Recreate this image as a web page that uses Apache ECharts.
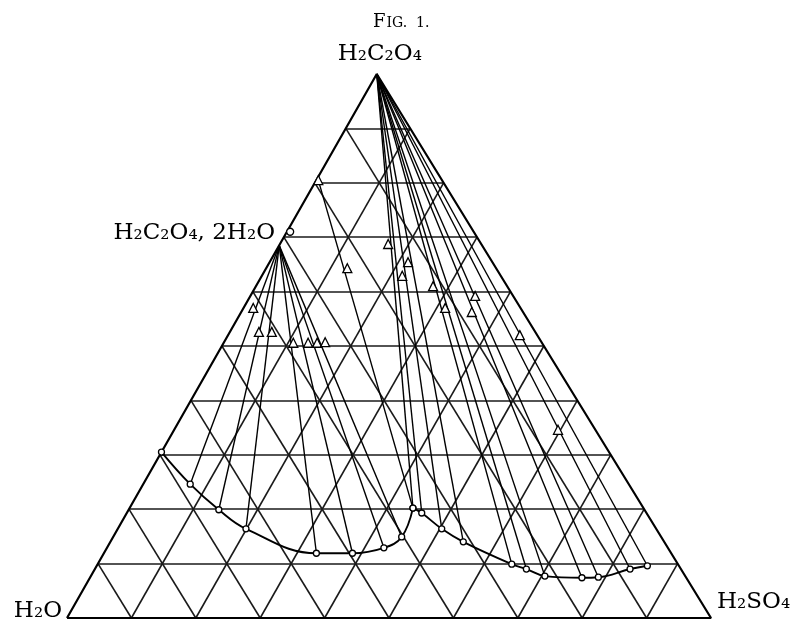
<!DOCTYPE html>
<html>
<head>
<meta charset="utf-8">
<script src="https://cdn.jsdelivr.net/npm/echarts@6/dist/echarts.min.js"></script>
<style>
html, body { margin: 0; background: #fff; }
#chart { width: 799px; height: 625px; }
</style>
</head>
<body>
<div id="chart"></div>
<script>
// Compositions in weight % as [H2C2O4, H2SO4]; water is the remainder
const gridTicks = [10, 20, 30, 40, 50, 60, 70, 80, 90];

// solutions in equilibrium with the dihydrate
const dihydrateCurve = [
    [30.5, 0], [24.6, 7.3], [19.9, 14.0], [16.4, 19.9], [11.9, 33.0],
    [11.9, 38.6], [12.9, 43.0], [14.9, 44.8], [20.2, 44.0]
];
// solutions in equilibrium with anhydrous acid
const anhydrousCurve = [
    [20.2, 44.0], [19.3, 45.8], [16.4, 50.3], [14.0, 54.8], [9.9, 64.3], [9.0, 67.0],
    [7.7, 70.5], [7.4, 76.4], [7.5, 78.9], [9.0, 83.1], [9.6, 85.5]
];

const apexPoint = [100, 0];
const dihydratePoint = [71.0, 0.5];
const dihydrateTieOrigin = [68.5, 0];
const dihydrateTieEnds = [
    [24.6, 7.3], [19.9, 14.0], [16.4, 19.9], [11.9, 33.0], [11.9, 38.6], [12.9, 43.0], [14.9, 44.8]
];
const junctionTie = [[80.5, 0.3], [20.2, 44.0]];

// wet residues (triangles)
const residues = [
    [57.0, 1.5], [52.6, 4.5], [52.6, 6.5], [50.6, 10.8], [50.6, 13.1], [50.6, 14.5], [50.7, 15.7],
    [80.5, 0.3], [64.3, 12.6],
    [68.75, 16.8], [62.9, 21.8], [65.4, 21.5], [61.0, 27.5], [57.0, 31.3],
    [59.2, 34.9], [56.25, 35.8], [52.0, 45.3], [34.6, 59.6]
];

const vertexNames = ['H₂C₂O₄', 'H₂O', 'H₂SO₄'];
const hydrateName = 'H₂C₂O₄, 2H₂O';

// ternary -> plot coordinates (apex sits a little left of the base midpoint)
const K = 0.481;
function xy(p) {
    return [p[1] + K * p[0], p[0]];
}

const gridSegs = [];
gridTicks.forEach(t => {
    gridSegs.push({ coords: [xy([t, 0]), xy([t, 100 - t])] });
    gridSegs.push({ coords: [xy([0, t]), xy([100 - t, t])] });
    gridSegs.push({ coords: [xy([0, 100 - t]), xy([100 - t, 0])] });
});

const tieSegs = [];
dihydrateTieEnds.forEach(e => tieSegs.push({ coords: [xy(dihydrateTieOrigin), xy(e)] }));
anhydrousCurve.forEach(e => tieSegs.push({ coords: [xy(apexPoint), xy(e)] }));
tieSegs.push({ coords: junctionTie.map(xy) });

const ink = '#000';
const font = 'DejaVu Serif';
const dot = { color: '#fff', borderColor: ink, borderWidth: 1.3, opacity: 1 };
const labelBase = { show: true, color: ink, fontFamily: font, fontSize: 23 };

const chart = echarts.init(document.getElementById('chart'));

chart.setOption({
    animation: false,
    backgroundColor: '#fff',
    title: {
        text: '{a|F}{b|IG.  1.}',
        left: 368,
        top: 8,
        textStyle: {
            rich: {
                a: { fontFamily: font, fontSize: 18, fontWeight: 'normal', color: ink },
                b: { fontFamily: font, fontSize: 14, fontWeight: 'normal', color: ink, padding: [3, 0, 0, 1] }
            }
        }
    },
    grid: { left: 67, top: 74, width: 644, height: 544 },
    xAxis: { type: 'value', min: 0, max: 100, show: false },
    yAxis: { type: 'value', min: 0, max: 100, show: false },
    series: [
        {
            type: 'lines',
            coordinateSystem: 'cartesian2d',
            silent: true,
            lineStyle: { color: '#1a1a1a', width: 1.6, opacity: 1 },
            data: gridSegs,
            z: 1
        },
        {
            type: 'line',
            silent: true,
            symbol: 'none',
            lineStyle: { color: ink, width: 2.2 },
            data: [[0, 0], [100, 0], [0, 100], [0, 0]].map(p => xy([p[1], p[0]])),
            z: 2
        },
        {
            type: 'lines',
            coordinateSystem: 'cartesian2d',
            silent: true,
            lineStyle: { color: ink, width: 1.4, opacity: 1 },
            data: tieSegs,
            z: 3
        },
        {
            type: 'line',
            smooth: 0.4,
            symbol: 'circle',
            symbolSize: 6,
            showAllSymbol: true,
            lineStyle: { color: ink, width: 1.9 },
            itemStyle: dot,
            data: dihydrateCurve.map(xy),
            z: 4
        },
        {
            type: 'line',
            smooth: 0.4,
            symbol: 'circle',
            symbolSize: 6,
            showAllSymbol: true,
            lineStyle: { color: ink, width: 1.9 },
            itemStyle: dot,
            data: anhydrousCurve.map(xy),
            z: 4
        },
        {
            type: 'scatter',
            symbol: 'triangle',
            symbolSize: 9,
            itemStyle: dot,
            data: residues.map(xy),
            z: 5
        },
        {
            type: 'scatter',
            symbol: 'circle',
            symbolSize: 7,
            itemStyle: dot,
            data: [{
                value: xy(dihydratePoint),
                label: Object.assign({}, labelBase, {
                    formatter: hydrateName, position: 'left', distance: 11, offset: [0, 1]
                })
            }],
            z: 5
        },
        {
            type: 'scatter',
            symbolSize: 0,
            silent: true,
            itemStyle: { opacity: 1 },
            data: [
                { value: xy([100, 0]), label: Object.assign({}, labelBase, { formatter: vertexNames[0], position: 'top', distance: 8, offset: [3, 0] }) },
                { value: xy([0, 0]), label: Object.assign({}, labelBase, { formatter: vertexNames[1], position: 'left', distance: 5, offset: [0, -7] }) },
                { value: xy([0, 100]), label: Object.assign({}, labelBase, { formatter: vertexNames[2], position: 'right', distance: 6, offset: [0, -16] }) }
            ],
            z: 6
        }
    ]
});
</script>
</body>
</html>
